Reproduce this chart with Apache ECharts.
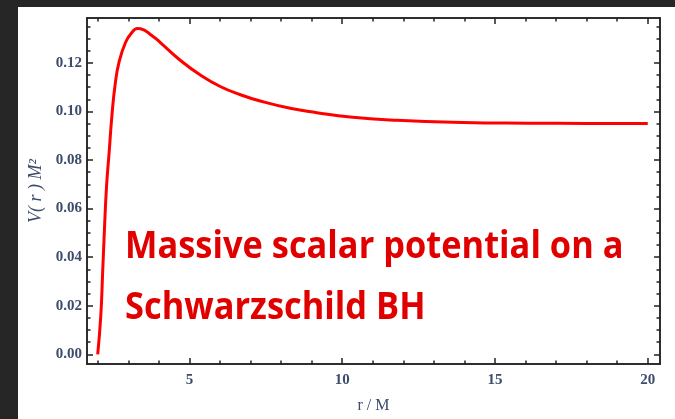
<!DOCTYPE html>
<html>
<head>
<meta charset="utf-8">
<script src="https://cdn.jsdelivr.net/npm/echarts@6/dist/echarts.min.js"></script>
<style>
  html, body { margin: 0; padding: 0; background: #262626; }
  #main { width: 675px; height: 419px; }
</style>
</head>
<body>
<div id="main"></div>
<script>
// values: r/M and V(r) M^2
var rVals = [2.0, 2.1, 2.16, 2.22, 2.29, 2.38, 2.46, 2.57, 2.70, 2.91, 3.1, 3.30, 3.40, 3.79, 4.05, 4.71, 5.36, 6.01, 6.67, 7.32, 8.3, 9.17, 10.26, 11.79, 13.95, 16.1, 18.0, 20.0];
var vVals = [0.0, 0.0156, 0.033, 0.0512, 0.0693, 0.0841, 0.0975, 0.111, 0.1204, 0.1284, 0.1322, 0.1342, 0.1341, 0.1311, 0.1284, 0.121, 0.115, 0.1103, 0.1069, 0.1043, 0.1013, 0.0995, 0.0977, 0.0964, 0.0955, 0.0952, 0.0951, 0.0951];

var xMajor = [5, 10, 15, 20];
var xMinor = [2, 3, 4, 6, 7, 8, 9, 11, 12, 13, 14, 16, 17, 18, 19];
var yMajor = [0, 0.02, 0.04, 0.06, 0.08, 0.10, 0.12];
var yMinor = [0.005, 0.01, 0.015, 0.025, 0.03, 0.035, 0.045, 0.05, 0.055, 0.065, 0.07, 0.075, 0.085, 0.09, 0.095, 0.105, 0.11, 0.115, 0.125, 0.13, 0.135];

var X_MIN = 1.65, X_MAX = 20.4;
var Y_MIN = -0.004, Y_MAX = 0.1385;

var lineStyle = { color: '#222', width: 1.5 };
var labelColor = '#3d4c6c';
var serif = "'Liberation Serif', 'DejaVu Serif', serif";

function xAx(pos, ticks, len, withLabels) {
    return {
        type: 'value', position: pos, min: X_MIN, max: X_MAX,
        axisLine: { show: true, onZero: false, lineStyle: lineStyle },
        axisTick: { show: true, inside: true, length: len, customValues: ticks, lineStyle: lineStyle },
        axisLabel: withLabels ? {
            show: true, customValues: ticks, margin: 9, color: labelColor,
            fontFamily: serif, fontSize: 15, fontWeight: 'bold'
        } : { show: false },
        splitLine: { show: false },
        name: withLabels ? 'r / M' : '',
        nameLocation: 'middle', nameGap: 34,
        nameTextStyle: { color: labelColor, fontFamily: serif, fontSize: 16 }
    };
}

function yAx(pos, ticks, len, withLabels) {
    return {
        type: 'value', position: pos, min: Y_MIN, max: Y_MAX,
        axisLine: { show: true, onZero: false, lineStyle: lineStyle },
        axisTick: { show: true, inside: true, length: len, customValues: ticks, lineStyle: lineStyle },
        axisLabel: withLabels ? {
            show: true, customValues: ticks, margin: 5, color: labelColor,
            fontFamily: serif, fontSize: 15, fontWeight: 'bold',
            formatter: function (v) { return v.toFixed(2); }
        } : { show: false },
        splitLine: { show: false },
        name: withLabels ? 'V( r ) M²' : '',
        nameLocation: 'middle', nameGap: 42, nameRotate: 90,
        nameTextStyle: { color: labelColor, fontFamily: serif, fontSize: 18, fontStyle: 'italic' }
    };
}

var points = rVals.map(function (r, i) { return [r, vVals[i]]; });

var chart = echarts.init(document.getElementById('main'));
chart.setOption({
    backgroundColor: '#262626',
    animation: false,
    grid: { left: 87, top: 18, right: 15, bottom: 47 },
    graphic: [
        { type: 'rect', z: -10, shape: { x: 18, y: 7, width: 657, height: 412 }, style: { fill: '#ffffff' } },
        { type: 'text', x: 125, y: 229, scaleX: 0.93, z: 100,
          style: { text: 'Massive scalar potential on a', fill: '#e00000',
                   font: "bold 37px 'Open Sans', sans-serif" } },
        { type: 'text', x: 125, y: 290, scaleX: 0.93, z: 100,
          style: { text: 'Schwarzschild BH', fill: '#e00000',
                   font: "bold 37px 'Open Sans', sans-serif" } }
    ],
    xAxis: [
        xAx('bottom', xMajor, 6, true),
        xAx('bottom', xMinor, 3.5, false),
        xAx('top', xMajor, 6, false),
        xAx('top', xMinor, 3.5, false)
    ],
    yAxis: [
        yAx('left', yMajor, 6, true),
        yAx('left', yMinor, 3.5, false),
        yAx('right', yMajor, 6, false),
        yAx('right', yMinor, 3.5, false)
    ],
    series: [{
        type: 'line',
        xAxisIndex: 0, yAxisIndex: 0,
        data: points,
        smooth: 0.5,
        showSymbol: false,
        lineStyle: { color: '#ff0000', width: 3 }
    }]
});
</script>
</body>
</html>
